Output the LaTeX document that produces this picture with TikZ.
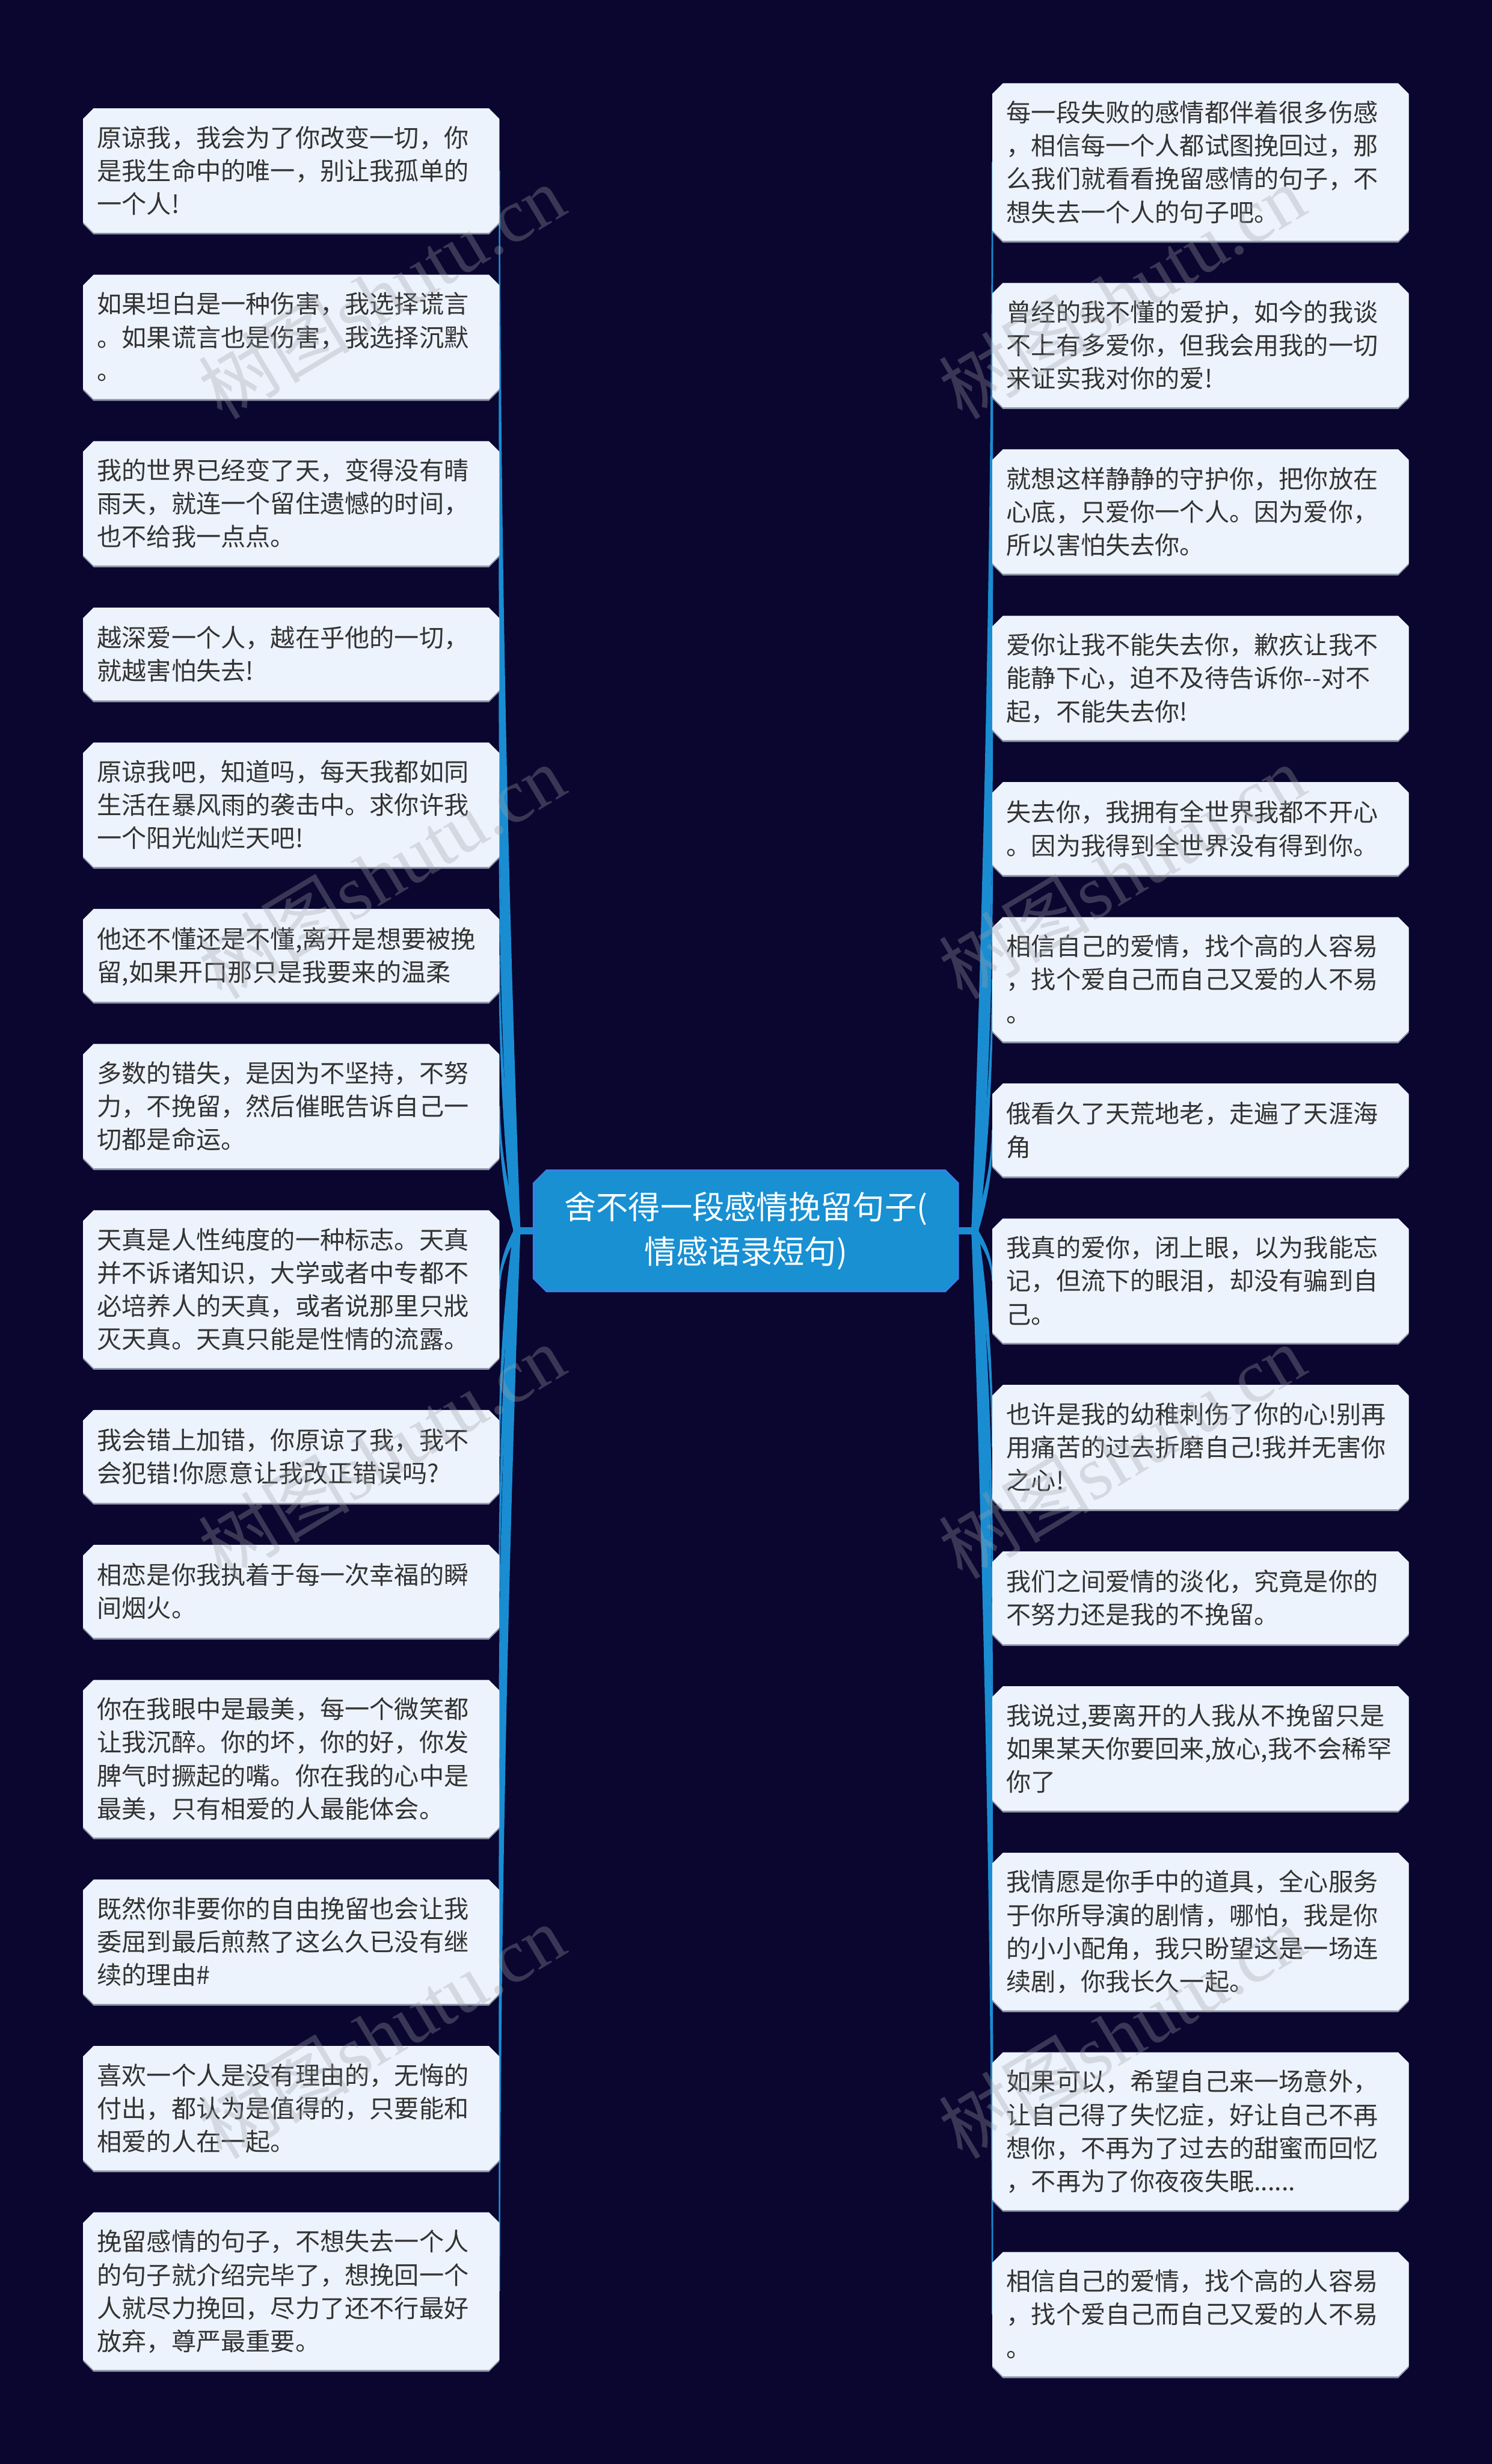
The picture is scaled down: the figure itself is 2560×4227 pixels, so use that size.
\documentclass[tikz,border=0pt]{standalone}
\usepackage{fontspec}
\newfontfamily\cjk{Noto Sans CJK SC}
\newfontfamily\wmserif{Liberation Serif}
\usetikzlibrary{calc,backgrounds}
\definecolor{bgc}{HTML}{0A0630}
\definecolor{boxc}{HTML}{EDF3FD}
\definecolor{txtc}{HTML}{333333}
\definecolor{linec}{HTML}{1A8DD2}
\definecolor{mainc}{HTML}{1890D2}
\definecolor{mainb}{HTML}{3A7FE6}
\definecolor{shc}{HTML}{8E95A6}
\definecolor{wmc}{HTML}{A0A0A8}
\tikzset{
  leaf/.style={inner xsep=24pt, inner ysep=0pt, text width=666pt, align=left,
    font=\cjk\fontsize{42.5}{57}\selectfont, text=txtc,
    execute at begin node={\rule{0pt}{50pt}}, execute at end node=\strut},
  lfl/.style={leaf, anchor=east},
  rgt/.style={leaf, anchor=west},
  h2/.style={minimum height=159pt},
  h3/.style={minimum height=213pt},
  h4/.style={minimum height=270pt},
  mainnode/.style={inner sep=0pt, minimum width=728pt, minimum height=207pt, align=center,
    font=\cjk\fontsize{55}{77}\selectfont, text=white},
  boxfill/.style={fill=boxc},
  boxshadow/.style={fill=shc, transform canvas={yshift=-3pt}},
  wmark/.style={rotate=31, text=wmc, opacity=0.32, inner sep=0pt},
  barline/.style={draw=linec, line width=13pt}
}
\newcommand\chamf[3]{%
  \path[#3] ($(#1.north west)+(0,-#2)$) -- ($(#1.north west)+(#2,0)$) -- ($(#1.north east)+(-#2,0)$) -- ($(#1.north east)+(0,-#2)$) -- ($(#1.south east)+(0,#2)$) -- ($(#1.south east)+(-#2,0)$) -- ($(#1.south west)+(#2,0)$) -- ($(#1.south west)+(0,#2)$) -- cycle;}
\newcommand\taper[2]{%
  \fill[linec] let \p1=(#1), \p2=(#2) in
  ({\x1-6pt},\y1) .. controls ({\x1+(\x2-\x1)*0.6667-4pt},{\y1+(\y2-\y1)*0.3333}) and ({\x2-1.3pt},{\y2+(\y1-\y2)*0.3333}) .. ({\x2-1.3pt},\y2)
  -- ({\x2+1.3pt},\y2) .. controls ({\x2+1.3pt},{\y2+(\y1-\y2)*0.3333}) and ({\x1+(\x2-\x1)*0.6667+4pt},{\y1+(\y2-\y1)*0.3333}) .. ({\x1+6pt},\y1) -- cycle;}
\begin{document}
\begin{tikzpicture}[x=1pt,y=1pt]
\useasboundingbox (0,0) rectangle (2560,-4227);
% centre
\node[mainnode] (C) at (1280,-2111.5) {舍不得一段感情挽留句子(\\情感语录短句)};
\coordinate (rl) at (887,-2111.5);
\coordinate (rr) at (1673,-2111.5);
% left
\node[lfl,h3] (L1) at (857,-292.5) {原谅我，我会为了你改变一切，你\\是我生命中的唯一，别让我孤单的\\一个人!};
\node[lfl,h3] (L2) at (857,-578) {如果坦白是一种伤害，我选择谎言\\。如果谎言也是伤害，我选择沉默\\。};
\node[lfl,h3] (L3) at (857,-863.5) {我的世界已经变了天，变得没有晴\\雨天，就连一个留住遗憾的时间，\\也不给我一点点。};
\node[lfl,h2] (L4) at (857,-1122) {越深爱一个人，越在乎他的一切，\\就越害怕失去!};
\node[lfl,h3] (L5) at (857,-1380.5) {原谅我吧，知道吗，每天我都如同\\生活在暴风雨的袭击中。求你许我\\一个阳光灿烂天吧!};
\node[lfl,h2] (L6) at (857,-1639) {他还不懂还是不懂,离开是想要被挽\\留,如果开口那只是我要来的温柔};
\node[lfl,h3] (L7) at (857,-1897.5) {多数的错失，是因为不坚持，不努\\力，不挽留，然后催眠告诉自己一\\切都是命运。};
\node[lfl,h4] (L8) at (857,-2211.5) {天真是人性纯度的一种标志。天真\\并不诉诸知识，大学或者中专都不\\必培养人的天真，或者说那里只戕\\灭天真。天真只能是性情的流露。};
\node[lfl,h2] (L9) at (857,-2498.5) {我会错上加错，你原谅了我，我不\\会犯错!你愿意让我改正错误吗?};
\node[lfl,h2] (L10) at (857,-2730) {相恋是你我执着于每一次幸福的瞬\\间烟火。};
\node[lfl,h4] (L11) at (857,-3017) {你在我眼中是最美，每一个微笑都\\让我沉醉。你的坏，你的好，你发\\脾气时撅起的嘴。你在我的心中是\\最美，只有相爱的人最能体会。};
\node[lfl,h3] (L12) at (857,-3331) {既然你非要你的自由挽留也会让我\\委屈到最后煎熬了这么久已没有继\\续的理由\#};
\node[lfl,h3] (L13) at (857,-3616.5) {喜欢一个人是没有理由的，无悔的\\付出，都认为是值得的，只要能和\\相爱的人在一起。};
\node[lfl,h4] (L14) at (857,-3930.5) {挽留感情的句子，不想失去一个人\\的句子就介绍完毕了，想挽回一个\\人就尽力挽回，尽力了还不行最好\\放弃，尊严最重要。};
% right
\node[rgt,h4] (R1) at (1703,-278) {每一段失败的感情都伴着很多伤感\\，相信每一个人都试图挽回过，那\\么我们就看看挽留感情的句子，不\\想失去一个人的句子吧。};
\node[rgt,h3] (R2) at (1703,-592) {曾经的我不懂的爱护，如今的我谈\\不上有多爱你，但我会用我的一切\\来证实我对你的爱!};
\node[rgt,h3] (R3) at (1703,-877.5) {就想这样静静的守护你，把你放在\\心底，只爱你一个人。因为爱你，\\所以害怕失去你。};
\node[rgt,h3] (R4) at (1703,-1163) {爱你让我不能失去你，歉疚让我不\\能静下心，迫不及待告诉你--对不\\起，不能失去你!};
\node[rgt,h2] (R5) at (1703,-1421.5) {失去你，我拥有全世界我都不开心\\。因为我得到全世界没有得到你。};
\node[rgt,h3] (R6) at (1703,-1680) {相信自己的爱情，找个高的人容易\\，找个爱自己而自己又爱的人不易\\。};
\node[rgt,h2] (R7) at (1703,-1938.5) {俄看久了天荒地老，走遍了天涯海\\角};
\node[rgt,h3] (R8) at (1703,-2197) {我真的爱你，闭上眼，以为我能忘\\记，但流下的眼泪，却没有骗到自\\己。};
\node[rgt,h3] (R9) at (1703,-2482.5) {也许是我的幼稚刺伤了你的心!别再\\用痛苦的过去折磨自己!我并无害你\\之心!};
\node[rgt,h2] (R10) at (1703,-2741) {我们之间爱情的淡化，究竟是你的\\不努力还是我的不挽留。};
\node[rgt,h3] (R11) at (1703,-2999.5) {我说过,要离开的人我从不挽留只是\\如果某天你要回来,放心,我不会稀罕\\你了};
\node[rgt,h4] (R12) at (1703,-3313.5) {我情愿是你手中的道具，全心服务\\于你所导演的剧情，哪怕，我是你\\的小小配角，我只盼望这是一场连\\续剧，你我长久一起。};
\node[rgt,h4] (R13) at (1703,-3656) {如果可以，希望自己来一场意外，\\让自己得了失忆症，好让自己不再\\想你，不再为了过去的甜蜜而回忆\\，不再为了你夜夜失眠......};
\node[rgt,h3] (R14) at (1703,-3970) {相信自己的爱情，找个高的人容易\\，找个爱自己而自己又爱的人不易\\。};
% background, connectors, boxes
\begin{scope}[on background layer]
  \fill[bgc] (0,0) rectangle (2560,-4227);
  \draw[barline] (C.west) -- (rl);
  \draw[barline] (C.east) -- (rr);
  \foreach \nd in {L1,L2,L3,L4,L5,L6,L7,L8,L9,L10,L11,L12,L13,L14}{\taper{rl}{\nd.east}}
  \foreach \nd in {R1,R2,R3,R4,R5,R6,R7,R8,R9,R10,R11,R12,R13,R14}{\taper{rr}{\nd.west}}
  \foreach \nd in {L1,L2,L3,L4,L5,L6,L7,L8,L9,L10,L11,L12,L13,L14,R1,R2,R3,R4,R5,R6,R7,R8,R9,R10,R11,R12,R13,R14}{%
    \chamf{\nd}{18pt}{boxshadow}
    \chamf{\nd}{18pt}{boxfill}}
  \chamf{C}{22pt}{fill=mainc, draw=mainb, line width=3pt}
\end{scope}
% watermarks
\foreach \i/\yy in {1/500,2/1495,3/2490,4/3485}{%
  \node[wmark] (wl\i) at (655,-\yy) {\cjk\fontsize{130}{130}\selectfont 树图\wmserif shutu.cn};
  \node[wmark] (wr\i) at (1925,-\yy) {\cjk\fontsize{130}{130}\selectfont 树图\wmserif shutu.cn};}
\end{tikzpicture}
\end{document}
